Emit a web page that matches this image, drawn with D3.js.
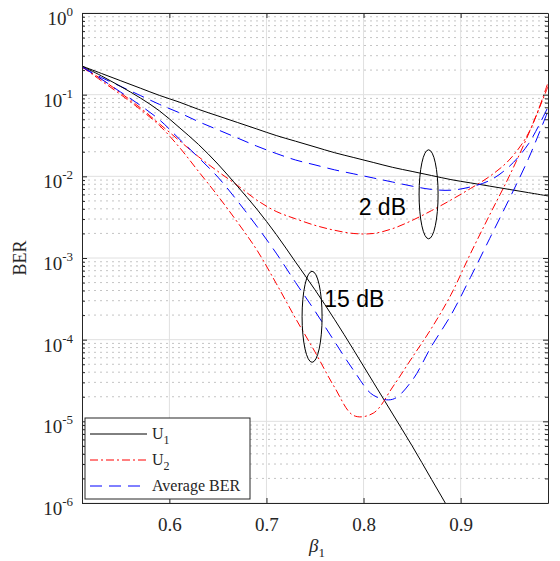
<!DOCTYPE html>
<html>
<head>
<meta charset="utf-8">
<script src="https://cdn.jsdelivr.net/npm/d3@7"></script>
<style>
  body { margin: 0; background: #fff; }
  svg text { font-family: "Liberation Serif", "Times New Roman", "DejaVu Serif", serif; fill: #262626; }
</style>
</head>
<body>
<div id="chart"></div>
<script>
// beta_1 samples (x axis)
const beta = [0.51, 0.53, 0.55, 0.57, 0.59, 0.61, 0.63, 0.65, 0.67, 0.69, 0.71, 0.73, 0.75,
              0.77, 0.79, 0.81, 0.83, 0.85, 0.87, 0.89, 0.91, 0.93, 0.95, 0.97, 0.99];

// BER values, kept as exponents (BER = 10^e)
const u1_2dB  = [-0.65, -0.74, -0.83, -0.92, -1.01, -1.09, -1.18, -1.26, -1.34, -1.42, -1.50, -1.57, -1.64,
                 -1.71, -1.77, -1.83, -1.89, -1.94, -1.99, -2.04, -2.08, -2.12, -2.16, -2.20, -2.24];
const u2_2dB  = [-0.66, -0.81, -0.98, -1.16, -1.36, -1.56, -1.76, -1.94, -2.11, -2.29, -2.43, -2.52, -2.60,
                 -2.66, -2.70, -2.70, -2.64, -2.54, -2.42, -2.29, -2.15, -2.00, -1.80, -1.47, -0.85];
const avg_2dB = [-0.66, -0.79, -0.90, -1.01, -1.12, -1.22, -1.33, -1.43, -1.53, -1.63, -1.72, -1.80, -1.86,
                 -1.92, -1.97, -2.02, -2.07, -2.12, -2.16, -2.17, -2.13, -2.05, -1.88, -1.60, -1.15];
const u1_15dB  = [-0.65, -0.77, -0.90, -1.04, -1.20, -1.40, -1.61, -1.85, -2.12, -2.40, -2.71, -3.05, -3.39,
                  -3.75, -4.13, -4.52, -4.91, -5.30, -5.71, -6.12, -6.55, null, null, null, null];
const u2_15dB  = [-0.66, -0.83, -1.00, -1.18, -1.38, -1.64, -1.94, -2.24, -2.56, -2.90, -3.31, -3.74, -4.15,
                  -4.58, -4.93, -4.90, -4.58, -4.22, -3.86, -3.45, -2.95, -2.47, -2.00, -1.48, -0.90];
const avg_15dB = [-0.66, -0.81, -0.97, -1.13, -1.31, -1.54, -1.77, -2.01, -2.30, -2.61, -2.94, -3.30, -3.65,
                  -4.02, -4.38, -4.68, -4.73, -4.50, -4.08, -3.70, -3.24, -2.76, -2.28, -1.78, -1.20];

const xTicks = [0.6, 0.7, 0.8, 0.9];
const yDecades = [-6, -5, -4, -3, -2, -1, 0];
const legendNames = ["U1", "U2", "Average BER"];

const serif = '"Liberation Serif", "Times New Roman", serif';
const W = 560, H = 561;
const margin = { top: 13, right: 12, bottom: 58, left: 82 };
const width = W - margin.left - margin.right,
      height = H - margin.top - margin.bottom;

const svg = d3.select("#chart").append("svg")
    .attr("width", W).attr("height", H);

const g = svg.append("g")
    .attr("transform", `translate(${margin.left},${margin.top})`);

const x = d3.scaleLinear().domain([0.51, 0.99]).range([0, width]);
const y = d3.scaleLog().domain([1e-6, 1]).range([height, 0]);

// minor values 2..9 x decade
let minor = [];
for (let e = -6; e < 0; e++) {
  for (let k = 2; k <= 9; k++) minor.push(k * Math.pow(10, e));
}
const major = yDecades.map(e => Math.pow(10, e));

// grid
g.append("g").selectAll("line").data(minor).enter().append("line")
    .attr("x1", 0).attr("x2", width)
    .attr("y1", d => y(d)).attr("y2", d => y(d))
    .attr("stroke", "#c4c4c4").attr("stroke-width", 1)
    .attr("stroke-dasharray", "2,4");
g.append("g").selectAll("line").data(major).enter().append("line")
    .attr("x1", 0).attr("x2", width)
    .attr("y1", d => y(d)).attr("y2", d => y(d))
    .attr("stroke", "#e0e0e0").attr("stroke-width", 1);
g.append("g").selectAll("line").data(xTicks).enter().append("line")
    .attr("x1", d => x(d)).attr("x2", d => x(d))
    .attr("y1", 0).attr("y2", height)
    .attr("stroke", "#e0e0e0").attr("stroke-width", 1);

// curves
g.append("clipPath").attr("id", "clip")
  .append("rect").attr("width", width).attr("height", height);

const line = d3.line()
    .defined(d => d[1] != null)
    .x(d => x(d[0]))
    .y(d => y(Math.pow(10, d[1])))
    .curve(d3.curveCatmullRom.alpha(0.5));

const series = [
  { v: u1_2dB,   color: "#000000", dash: null },
  { v: u2_2dB,   color: "#ff0000", dash: "8,3,2,3" },
  { v: avg_2dB,  color: "#0000ff", dash: "12,7" },
  { v: u1_15dB,  color: "#000000", dash: null },
  { v: u2_15dB,  color: "#ff0000", dash: "8,3,2,3" },
  { v: avg_15dB, color: "#0000ff", dash: "12,7" }
];

const curves = g.append("g").attr("clip-path", "url(#clip)");
series.forEach(s => {
  curves.append("path")
    .datum(beta.map((b, i) => [b, s.v[i]]))
    .attr("d", line)
    .attr("fill", "none")
    .attr("stroke", s.color)
    .attr("stroke-width", 1)
    .attr("stroke-dasharray", s.dash);
});

// axes box + ticks (MATLAB style, inward)
const tickColor = "#262626";
g.append("g").attr("transform", `translate(0,${height})`)
    .call(d3.axisBottom(x).tickValues(xTicks).tickSizeInner(-5).tickSizeOuter(0).tickFormat(d3.format(".1f")))
    .attr("font-family", serif).attr("font-size", 19)
    .call(a => a.select(".domain").attr("stroke", tickColor))
    .call(a => a.selectAll(".tick line").attr("stroke", tickColor))
    .call(a => a.selectAll("text").attr("dy", "1.3em").attr("fill", "#262626"));
g.append("g")
    .call(d3.axisTop(x).tickValues(xTicks).tickSizeInner(-5).tickSizeOuter(0).tickFormat(""))
    .call(a => a.select(".domain").attr("stroke", tickColor))
    .call(a => a.selectAll(".tick line").attr("stroke", tickColor));

function yAxisSide(axisFn, xpos) {
  const a = g.append("g").attr("transform", `translate(${xpos},0)`);
  a.call(axisFn(y).tickValues(major).tickSizeInner(-5).tickSizeOuter(0).tickFormat(""))
    .call(s => s.select(".domain").attr("stroke", tickColor))
    .call(s => s.selectAll(".tick line").attr("stroke", tickColor));
  a.append("g").call(axisFn(y).tickValues(minor).tickSizeInner(-3).tickSizeOuter(0).tickFormat(""))
    .call(s => s.select(".domain").remove())
    .call(s => s.selectAll(".tick line").attr("stroke", tickColor));
}
yAxisSide(d3.axisLeft, 0);
yAxisSide(d3.axisRight, width);

// y tick labels 10^e
const ylab = g.append("g").attr("font-family", serif);
yDecades.forEach(e => {
  const t = ylab.append("text")
    .attr("x", -9)
    .attr("y", y(Math.pow(10, e)) + 12)
    .attr("text-anchor", "end")
    .style("font-size", "19px");
  t.append("tspan").text("10");
  t.append("tspan").attr("dy", -9).style("font-size", "13px").text(String(e));
});

// axis titles
svg.append("text")
    .attr("transform", `translate(26,${margin.top + height / 2}) rotate(-90)`)
    .attr("text-anchor", "middle")
    .style("font-size", "18px")
    .text("BER");

const xt = svg.append("text")
    .attr("x", margin.left + width / 2 + 2)
    .attr("y", 552)
    .attr("text-anchor", "middle")
    .style("font-size", "19px")
    .style("font-style", "italic");
xt.append("tspan").text("β");
xt.append("tspan").attr("dy", 5).style("font-size", "13px").style("font-style", "normal").text("1");

// SNR annotations (ellipses + labels)
const notes = g.append("g");
notes.append("ellipse")
    .attr("cx", x(0.867)).attr("cy", y(Math.pow(10, -2.22)))
    .attr("rx", 9.5).attr("ry", 44.5)
    .attr("fill", "none").attr("stroke", "#000").attr("stroke-width", 1);
notes.append("ellipse")
    .attr("cx", x(0.747)).attr("cy", y(Math.pow(10, -3.72)))
    .attr("rx", 10).attr("ry", 45.5)
    .attr("fill", "none").attr("stroke", "#000").attr("stroke-width", 1);
notes.append("text")
    .attr("x", x(0.795)).attr("y", y(Math.pow(10, -2.47)))
    .style("font-family", "Liberation Sans, Arial, sans-serif")
    .style("font-size", "23px").style("fill", "#000")
    .text("2 dB");
notes.append("text")
    .attr("x", x(0.7595)).attr("y", y(Math.pow(10, -3.6)))
    .style("font-family", "Liberation Sans, Arial, sans-serif")
    .style("font-size", "23px").style("fill", "#000")
    .text("15 dB");

// legend
const lg = svg.append("g").attr("transform", "translate(85,418)");
lg.append("rect")
    .attr("width", 165).attr("height", 81)
    .attr("fill", "#fff").attr("stroke", "#262626").attr("stroke-width", 1);
const legendRows = [
  { color: "#000000", dash: null },
  { color: "#ff0000", dash: "8,3,2,3" },
  { color: "#0000ff", dash: "12,7" }
];
legendRows.forEach((r, i) => {
  const yy = 16 + i * 26;
  lg.append("line")
    .attr("x1", 5).attr("x2", 62).attr("y1", yy).attr("y2", yy)
    .attr("stroke", r.color).attr("stroke-width", 1)
    .attr("stroke-dasharray", r.dash);
  const t = lg.append("text").attr("x", 67).attr("y", yy + 5).style("font-size", "16px");
  if (i < 2) {
    t.append("tspan").text(legendNames[i][0]);
    t.append("tspan").attr("dy", 5).style("font-size", "12px").text(legendNames[i].slice(1));
  } else {
    t.text(legendNames[i]);
  }
});
</script>
</body>
</html>
